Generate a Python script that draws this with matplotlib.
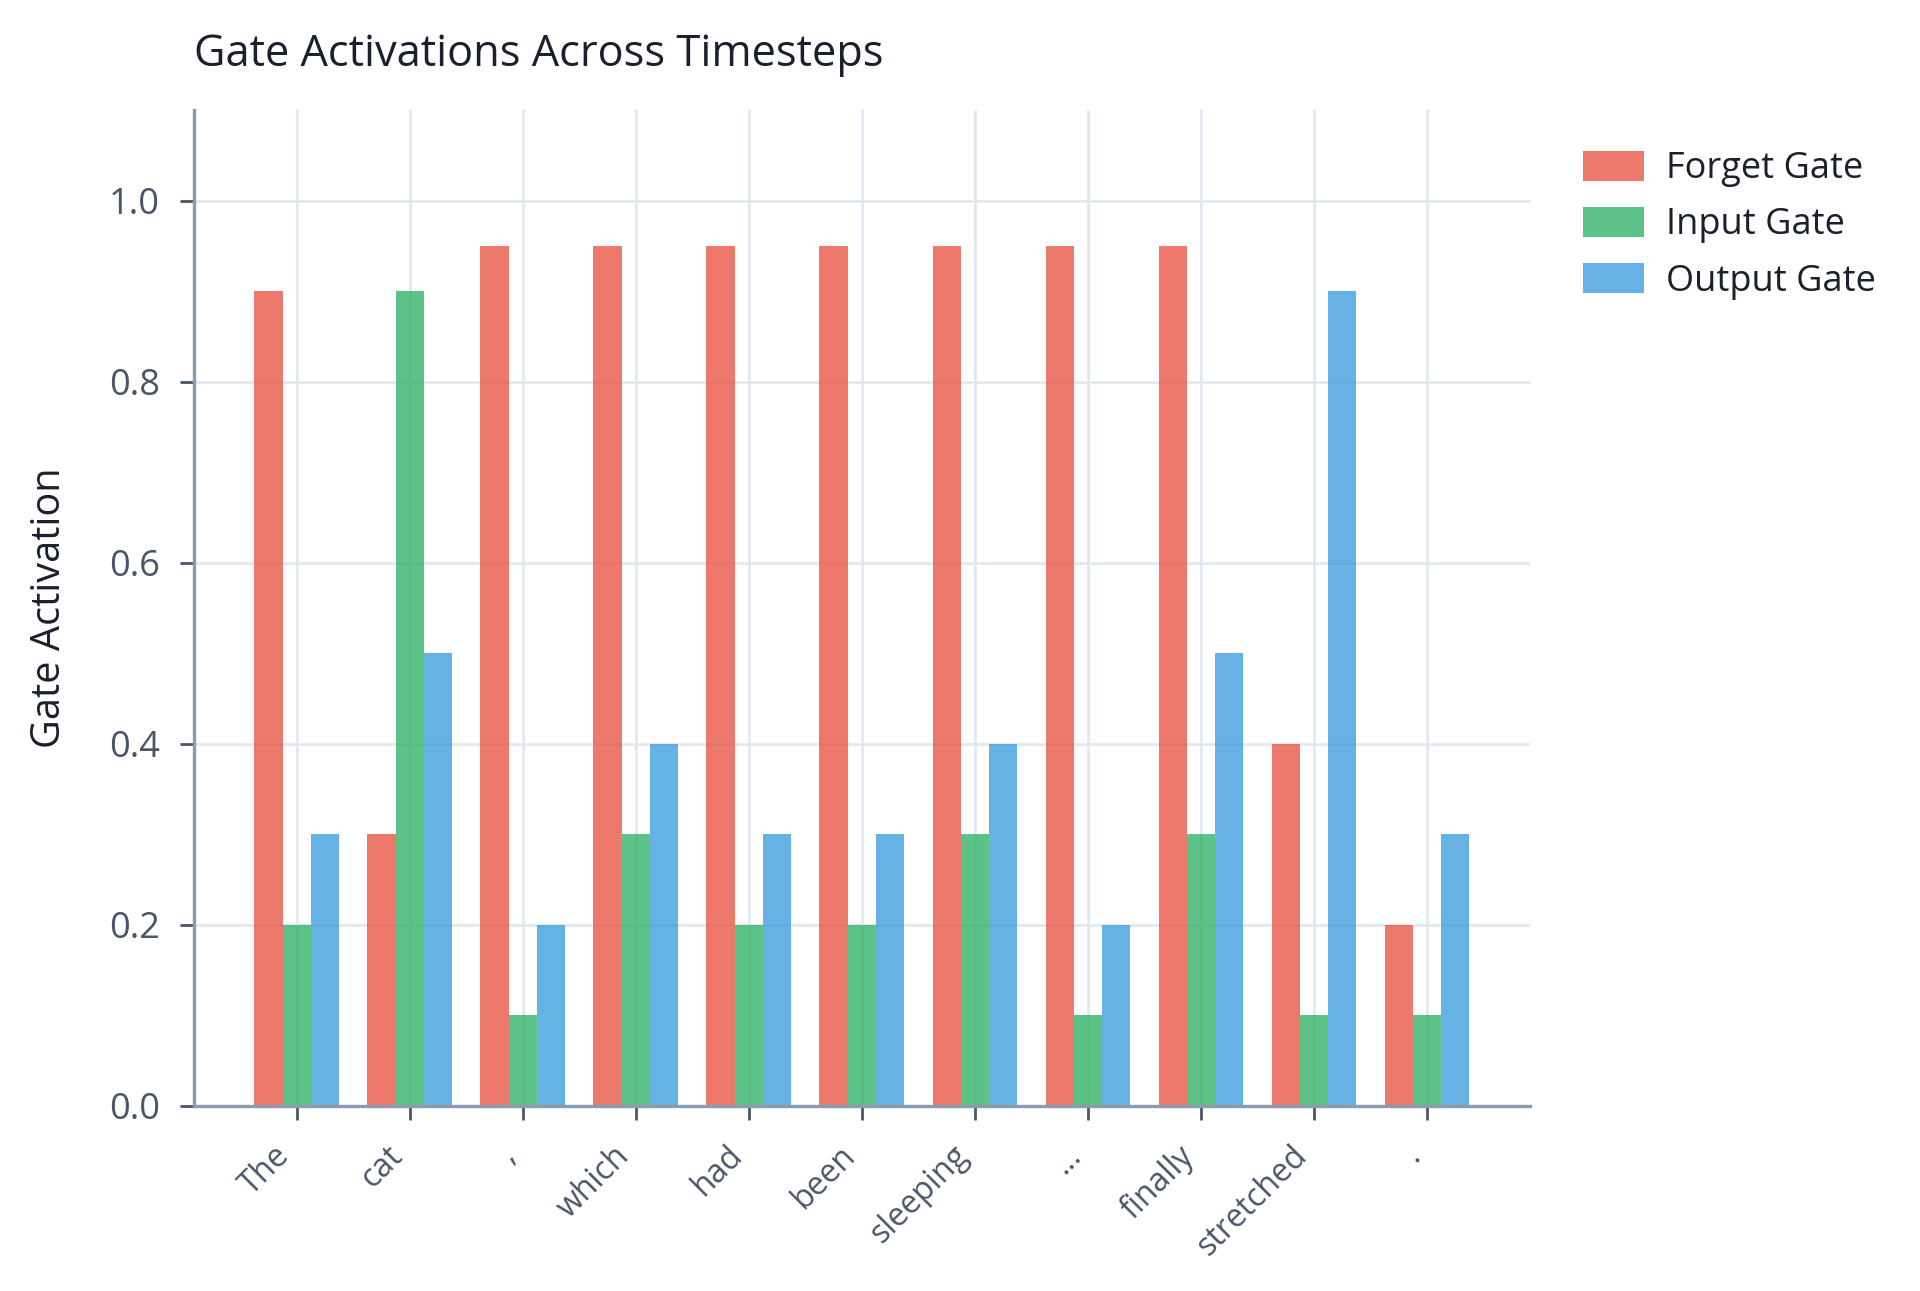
import numpy as np
import matplotlib
matplotlib.use("Agg")
import matplotlib.pyplot as plt

plt.rcParams['font.family'] = ['Open Sans', 'DejaVu Sans']

# data
tokens = ["The", "cat", ",", "which", "had", "been", "sleeping", "...", "finally", "stretched", "."]
forget_gate = [0.9, 0.3, 0.95, 0.95, 0.95, 0.95, 0.95, 0.95, 0.95, 0.4, 0.2]
input_gate = [0.2, 0.9, 0.1, 0.3, 0.2, 0.2, 0.3, 0.1, 0.3, 0.1, 0.1]
output_gate = [0.3, 0.5, 0.2, 0.4, 0.3, 0.3, 0.4, 0.2, 0.5, 0.9, 0.3]

x = np.arange(len(tokens))
w = 0.25

fig = plt.figure(figsize=(9.6, 6.455), dpi=200)
ax = fig.add_axes([0.1008, 0.1433, 0.6962, 0.7713])

ax.bar(x - w, forget_gate, w, color="#e74c3c", alpha=0.75, label="Forget Gate", zorder=2)
ax.bar(x, input_gate, w, color="#27ae60", alpha=0.75, label="Input Gate", zorder=2)
ax.bar(x + w, output_gate, w, color="#3498db", alpha=0.75, label="Output Gate", zorder=2)

ax.set_ylim(0, 1.1)
ax.set_yticks([0.0, 0.2, 0.4, 0.6, 0.8, 1.0])
ax.set_xticks(x)
ax.set_xticklabels(tokens, rotation=45, ha="right")

ax.grid(True, color="#e2e8f0", linewidth=1.0, zorder=0)
ax.set_axisbelow(True)
for s in ["top", "right"]:
    ax.spines[s].set_visible(False)
for s in ["left", "bottom"]:
    ax.spines[s].set_color("#8a9bb0")
    ax.spines[s].set_linewidth(1.2)
ax.tick_params(colors="#4a5568", labelsize=13, length=5, width=1.0, pad=7)
ax.tick_params(axis="x", labelsize=11.5, pad=7)

ax.set_ylabel("Gate Activation", fontsize=14.3, color="#1a202c", labelpad=14)
ax.set_title("Gate Activations Across Timesteps", loc="left", fontsize=15.6,
             color="#1a202c", pad=16)

leg = ax.legend(loc="upper left", bbox_to_anchor=(1.015, 0.992), frameon=False,
                fontsize=13, handlelength=1.7, handleheight=0.9, handletextpad=0.6,
                labelspacing=0.55)
for t in leg.get_texts():
    t.set_color("#1a202c")

fig.savefig("out.png", dpi=200)
